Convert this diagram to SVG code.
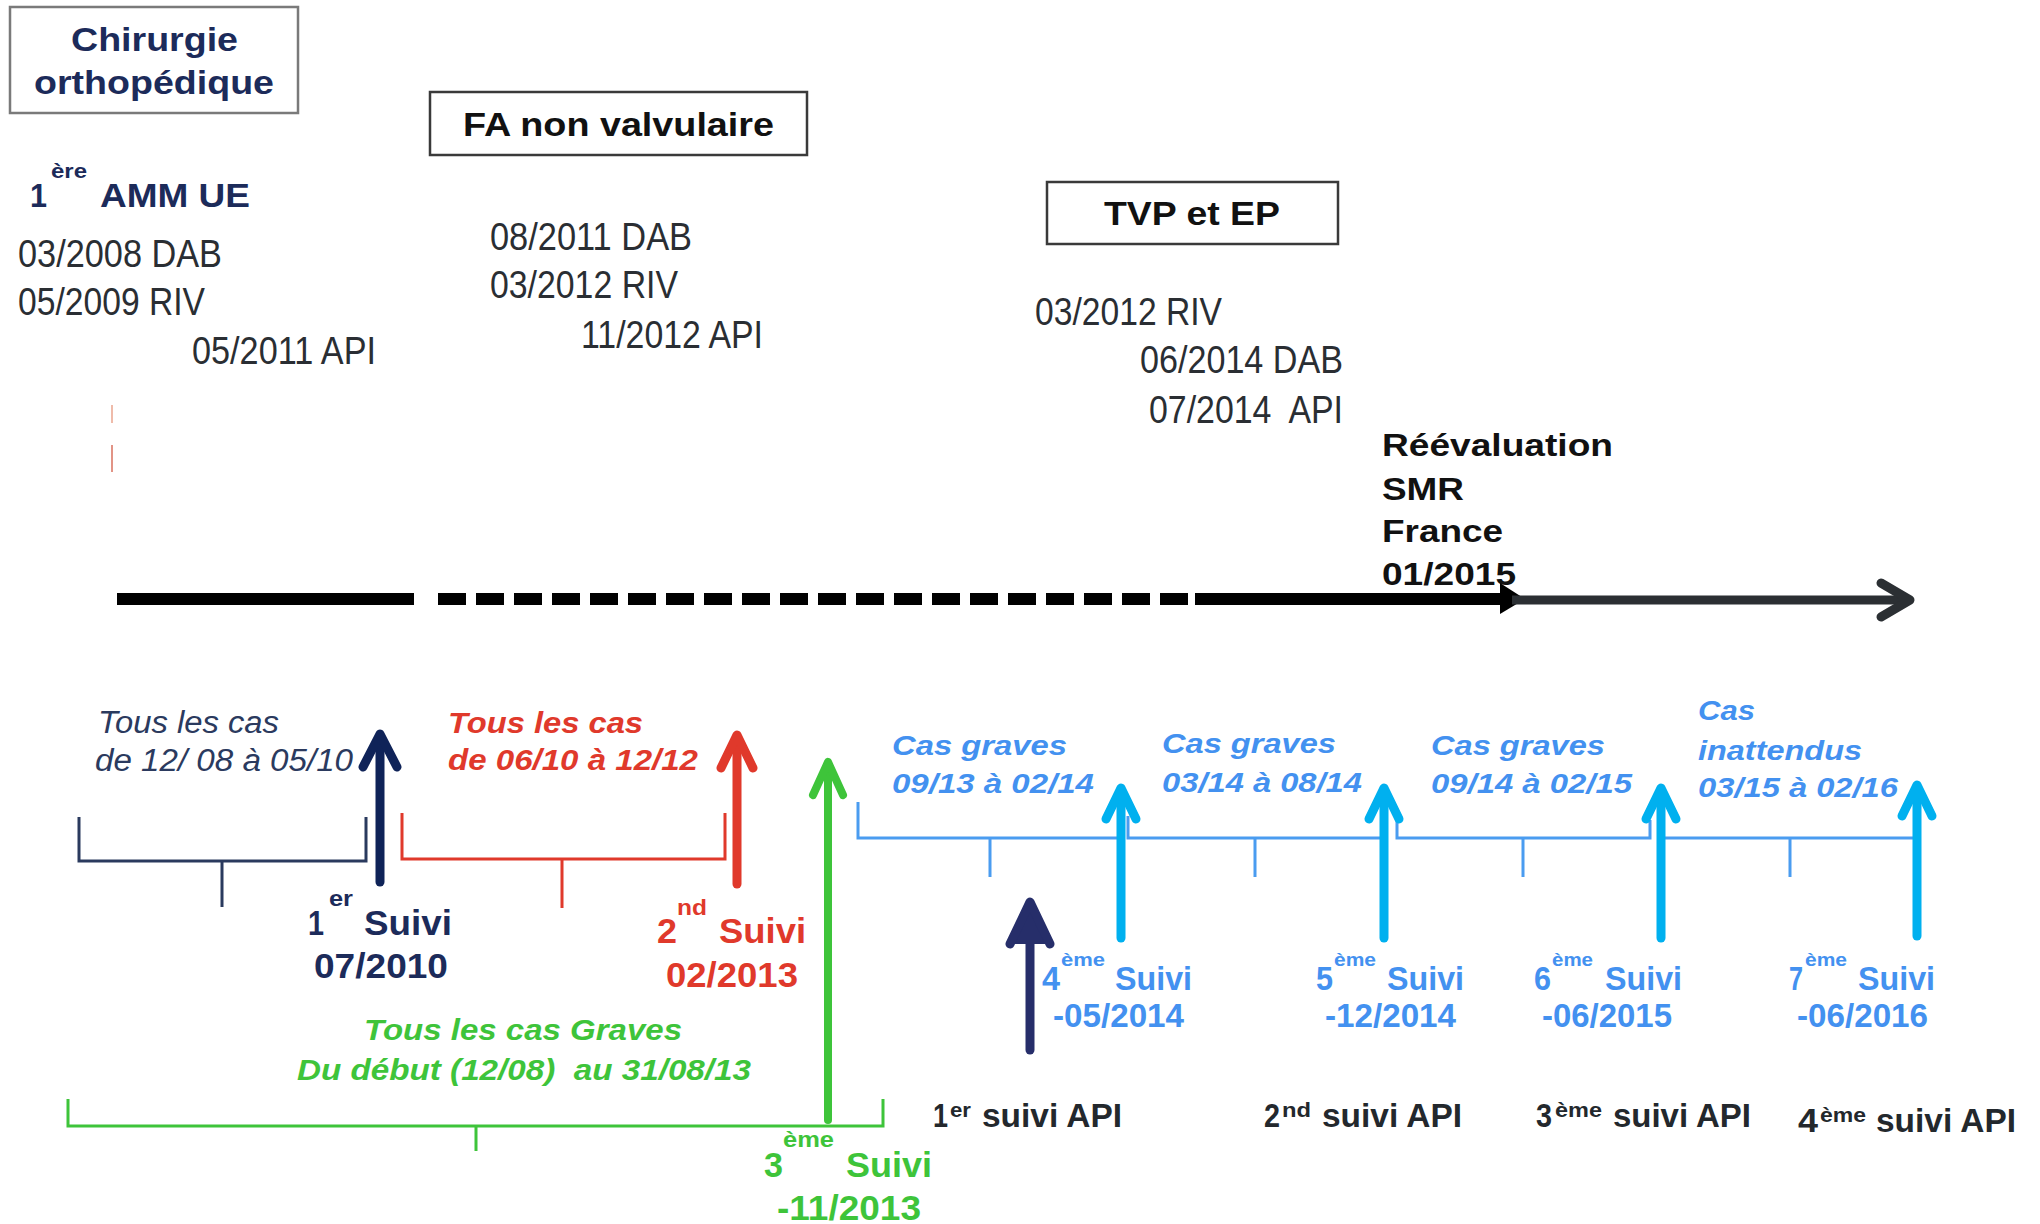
<svg xmlns="http://www.w3.org/2000/svg" width="2040" height="1224" viewBox="0 0 2040 1224">
<style>
text{font-family:"Liberation Sans",Arial,sans-serif;}
.b{font-weight:bold;}
.i{font-style:italic;}
.navy{fill:#1c2b5a;}
.dk{fill:#2a2e33;}
.blk{fill:#111;}
.red{fill:#e0392b;}
.grn{fill:#3ec43a;}
.blu{fill:#4391f0;}
.bk2{fill:#23282d;}
.date{font-size:38px;}
.box{fill:#fff;stroke:#3a3a3a;stroke-width:2.5;}
.br{fill:none;stroke-width:3;}
.arr{fill:none;stroke-linecap:round;stroke-linejoin:round;}
.pre{white-space:pre;}
</style>
<rect width="2040" height="1224" fill="#fff"/>

<g id="node-chirurgie">
<rect class="box" x="10" y="7" width="288" height="106" style="stroke:#7a7a7a"/>
<text class="b navy" x="71" y="51" font-size="34" textLength="167" lengthAdjust="spacingAndGlyphs">Chirurgie</text>
<text class="b navy" x="34" y="94" font-size="34" textLength="240" lengthAdjust="spacingAndGlyphs">orthopédique</text>
</g>
<g id="node-fa">
<rect class="box" x="430" y="92" width="377" height="63"/>
<text class="b blk" x="463" y="136" font-size="33" textLength="311" lengthAdjust="spacingAndGlyphs">FA non valvulaire</text>
</g>
<g id="node-tvp">
<rect class="box" x="1047" y="182" width="291" height="62"/>
<text class="b blk" x="1104" y="225" font-size="33" textLength="176" lengthAdjust="spacingAndGlyphs">TVP et EP</text>
</g>

<g id="node-amm">
<text class="b navy" x="30" y="207" font-size="33" textLength="17" lengthAdjust="spacingAndGlyphs">1</text>
<text class="b navy" x="51" y="178" font-size="20" textLength="36" lengthAdjust="spacingAndGlyphs">ère</text>
<text class="b navy" x="100" y="207" font-size="33" textLength="150" lengthAdjust="spacingAndGlyphs">AMM UE</text>
<text class="date dk" x="18" y="267" textLength="204" lengthAdjust="spacingAndGlyphs">03/2008 DAB</text>
<text class="date dk" x="18" y="315" textLength="187" lengthAdjust="spacingAndGlyphs">05/2009 RIV</text>
<text class="date dk" x="192" y="364" textLength="184" lengthAdjust="spacingAndGlyphs">05/2011 API</text>
</g>
<g id="node-fa-dates">
<text class="date dk" x="490" y="250" textLength="202" lengthAdjust="spacingAndGlyphs">08/2011 DAB</text>
<text class="date dk" x="490" y="298" textLength="188" lengthAdjust="spacingAndGlyphs">03/2012 RIV</text>
<text class="date dk" x="581" y="348" textLength="182" lengthAdjust="spacingAndGlyphs">11/2012 API</text>
</g>
<g id="node-tvp-dates">
<text class="date dk" x="1035" y="325" textLength="187" lengthAdjust="spacingAndGlyphs">03/2012 RIV</text>
<text class="date dk" x="1140" y="373" textLength="203" lengthAdjust="spacingAndGlyphs">06/2014 DAB</text>
<text class="date dk pre" x="1149" y="423" textLength="194" lengthAdjust="spacingAndGlyphs">07/2014  API</text>
</g>
<g id="node-smr">
<text class="b blk" x="1382" y="456" font-size="32" textLength="231" lengthAdjust="spacingAndGlyphs">Réévaluation</text>
<text class="b blk" x="1382" y="500" font-size="32" textLength="82" lengthAdjust="spacingAndGlyphs">SMR</text>
<text class="b blk" x="1382" y="542" font-size="32" textLength="121" lengthAdjust="spacingAndGlyphs">France</text>
<text class="b blk" x="1382" y="585" font-size="32" textLength="134" lengthAdjust="spacingAndGlyphs">01/2015</text>
</g>

<g id="marks">
<line x1="112" y1="405" x2="112" y2="423" stroke="#eaa58e" stroke-width="1.5"/>
<line x1="112" y1="445" x2="112" y2="472" stroke="#d8705e" stroke-width="1.5"/>
</g>

<g id="node-suivi1">
<text class="i navy" x="98" y="733" font-size="31" style="fill:#2b3a5e" textLength="181" lengthAdjust="spacingAndGlyphs">Tous les cas</text>
<text class="i navy" x="95" y="771" font-size="31" style="fill:#2b3a5e" textLength="258" lengthAdjust="spacingAndGlyphs">de 12/ 08 à 05/10</text>
<text class="b navy" x="308" y="935" font-size="35" textLength="16" lengthAdjust="spacingAndGlyphs">1</text>
<text class="b navy" x="329" y="906" font-size="22" textLength="24" lengthAdjust="spacingAndGlyphs">er</text>
<text class="b navy" x="364" y="935" font-size="35" textLength="88" lengthAdjust="spacingAndGlyphs">Suivi</text>
<text class="b navy" x="314" y="978" font-size="35" textLength="134" lengthAdjust="spacingAndGlyphs">07/2010</text>
</g>
<g id="node-suivi2">
<text class="b i red" x="448" y="733" font-size="30" textLength="195" lengthAdjust="spacingAndGlyphs">Tous les cas</text>
<text class="b i red" x="448" y="770" font-size="30" textLength="250" lengthAdjust="spacingAndGlyphs">de 06/10 à 12/12</text>
<text class="b red" x="657" y="943" font-size="35" textLength="20" lengthAdjust="spacingAndGlyphs">2</text>
<text class="b red" x="677" y="915" font-size="22" textLength="30" lengthAdjust="spacingAndGlyphs">nd</text>
<text class="b red" x="719" y="943" font-size="35" textLength="87" lengthAdjust="spacingAndGlyphs">Suivi</text>
<text class="b red" x="666" y="987" font-size="35" textLength="132" lengthAdjust="spacingAndGlyphs">02/2013</text>
</g>
<g id="node-suivi3">
<text class="b i grn" x="364" y="1040" font-size="29" textLength="318" lengthAdjust="spacingAndGlyphs">Tous les cas Graves</text>
<text class="b i grn pre" x="297" y="1080" font-size="29" textLength="454" lengthAdjust="spacingAndGlyphs">Du début (12/08)  au 31/08/13</text>
<text class="b grn" x="764" y="1177" font-size="35" textLength="19" lengthAdjust="spacingAndGlyphs">3</text>
<text class="b grn" x="783" y="1147" font-size="22" textLength="51" lengthAdjust="spacingAndGlyphs">ème</text>
<text class="b grn" x="846" y="1177" font-size="35" textLength="86" lengthAdjust="spacingAndGlyphs">Suivi</text>
<text class="b grn" x="777" y="1220" font-size="35" textLength="144" lengthAdjust="spacingAndGlyphs">-11/2013</text>
</g>

<g id="node-suivi4">
<text class="b i blu" x="892" y="755" font-size="28" textLength="175" lengthAdjust="spacingAndGlyphs">Cas graves</text>
<text class="b i blu" x="892" y="793" font-size="28" textLength="202" lengthAdjust="spacingAndGlyphs">09/13 à 02/14</text>
<text class="b blu" x="1042" y="990" font-size="33" textLength="18" lengthAdjust="spacingAndGlyphs">4</text>
<text class="b blu" x="1061" y="966" font-size="19" textLength="44" lengthAdjust="spacingAndGlyphs">ème</text>
<text class="b blu" x="1115" y="990" font-size="33" textLength="77" lengthAdjust="spacingAndGlyphs">Suivi</text>
<text class="b blu" x="1053" y="1027" font-size="33" textLength="131" lengthAdjust="spacingAndGlyphs">-05/2014</text>
</g>
<g id="node-suivi5">
<text class="b i blu" x="1162" y="753" font-size="28" textLength="174" lengthAdjust="spacingAndGlyphs">Cas graves</text>
<text class="b i blu" x="1162" y="792" font-size="28" textLength="200" lengthAdjust="spacingAndGlyphs">03/14 à 08/14</text>
<text class="b blu" x="1316" y="990" font-size="33" textLength="17" lengthAdjust="spacingAndGlyphs">5</text>
<text class="b blu" x="1334" y="966" font-size="19" textLength="42" lengthAdjust="spacingAndGlyphs">ème</text>
<text class="b blu" x="1387" y="990" font-size="33" textLength="77" lengthAdjust="spacingAndGlyphs">Suivi</text>
<text class="b blu" x="1325" y="1027" font-size="33" textLength="131" lengthAdjust="spacingAndGlyphs">-12/2014</text>
</g>
<g id="node-suivi6">
<text class="b i blu" x="1431" y="755" font-size="28" textLength="174" lengthAdjust="spacingAndGlyphs">Cas graves</text>
<text class="b i blu" x="1431" y="793" font-size="28" textLength="201" lengthAdjust="spacingAndGlyphs">09/14 à 02/15</text>
<text class="b blu" x="1534" y="990" font-size="33" textLength="17" lengthAdjust="spacingAndGlyphs">6</text>
<text class="b blu" x="1552" y="966" font-size="19" textLength="41" lengthAdjust="spacingAndGlyphs">ème</text>
<text class="b blu" x="1605" y="990" font-size="33" textLength="77" lengthAdjust="spacingAndGlyphs">Suivi</text>
<text class="b blu" x="1542" y="1027" font-size="33" textLength="130" lengthAdjust="spacingAndGlyphs">-06/2015</text>
</g>
<g id="node-suivi7">
<text class="b i blu" x="1698" y="720" font-size="28" textLength="57" lengthAdjust="spacingAndGlyphs">Cas</text>
<text class="b i blu" x="1698" y="760" font-size="28" textLength="164" lengthAdjust="spacingAndGlyphs">inattendus</text>
<text class="b i blu" x="1698" y="797" font-size="28" textLength="200" lengthAdjust="spacingAndGlyphs">03/15 à 02/16</text>
<text class="b blu" x="1789" y="990" font-size="33" textLength="14" lengthAdjust="spacingAndGlyphs">7</text>
<text class="b blu" x="1805" y="966" font-size="19" textLength="42" lengthAdjust="spacingAndGlyphs">ème</text>
<text class="b blu" x="1858" y="990" font-size="33" textLength="77" lengthAdjust="spacingAndGlyphs">Suivi</text>
<text class="b blu" x="1797" y="1027" font-size="33" textLength="131" lengthAdjust="spacingAndGlyphs">-06/2016</text>
</g>

<g id="node-api1">
<text class="b bk2" x="933" y="1127" font-size="34" textLength="15" lengthAdjust="spacingAndGlyphs">1</text>
<text class="b bk2" x="950" y="1117" font-size="20" textLength="21" lengthAdjust="spacingAndGlyphs">er</text>
<text class="b bk2" x="982" y="1127" font-size="34" textLength="140" lengthAdjust="spacingAndGlyphs">suivi API</text>
</g>
<g id="node-api2">
<text class="b bk2" x="1264" y="1127" font-size="34" textLength="16" lengthAdjust="spacingAndGlyphs">2</text>
<text class="b bk2" x="1282" y="1117" font-size="20" textLength="29" lengthAdjust="spacingAndGlyphs">nd</text>
<text class="b bk2" x="1322" y="1127" font-size="34" textLength="140" lengthAdjust="spacingAndGlyphs">suivi API</text>
</g>
<g id="node-api3">
<text class="b bk2" x="1536" y="1127" font-size="34" textLength="16" lengthAdjust="spacingAndGlyphs">3</text>
<text class="b bk2" x="1555" y="1117" font-size="20" textLength="47" lengthAdjust="spacingAndGlyphs">ème</text>
<text class="b bk2" x="1613" y="1127" font-size="34" textLength="138" lengthAdjust="spacingAndGlyphs">suivi API</text>
</g>
<g id="node-api4">
<text class="b bk2" x="1798" y="1132" font-size="34" textLength="20" lengthAdjust="spacingAndGlyphs">4</text>
<text class="b bk2" x="1820" y="1122" font-size="20" textLength="46" lengthAdjust="spacingAndGlyphs">ème</text>
<text class="b bk2" x="1876" y="1132" font-size="34" textLength="140" lengthAdjust="spacingAndGlyphs">suivi API</text>
</g>

<g id="connectors">
<line x1="117" y1="599" x2="414" y2="599" stroke="#000" stroke-width="12"/>
<line x1="438" y1="599" x2="1190" y2="599" stroke="#000" stroke-width="12" stroke-dasharray="28 10"/>
<line x1="1195" y1="599" x2="1504" y2="599" stroke="#000" stroke-width="12"/>
<polygon points="1500,583 1525,599 1500,614" fill="#000"/>
<line x1="1512" y1="600" x2="1905" y2="600" stroke="#2b2f33" stroke-width="9"/>
<polyline class="arr" points="1881,583 1910,600 1881,617" stroke="#2b2f33" stroke-width="9"/>

<path class="br" d="M79,817 V861 H366 V817 M222,861 V907" stroke="#2a3a5e"/>
<path class="br" d="M402,813 V859 H725 V813 M562,859 V908" stroke="#e0392b"/>
<path class="br" d="M68,1099 V1126 H883 V1099 M476,1126 V1151" stroke="#3ec43a"/>
<path class="br" d="M858,802 V838 H1118 M1128,816 V838 H1380 M1397,815 V838 H1650 V820 M1665,838 H1913 M990,838 V877 M1255,838 V877 M1523,838 V877 M1790,838 V877" stroke="#4a9cf0"/>

<g class="arr" stroke="#0f2358" stroke-width="9">
<line x1="380" y1="882" x2="380" y2="736"/>
<polyline points="363,767 380,734 397,767"/>
</g>
<g class="arr" stroke="#e0392b" stroke-width="9">
<line x1="737" y1="884" x2="737" y2="738"/>
<polyline points="721,768 737,735 753,768"/>
</g>
<g class="arr" stroke="#3ec43a" stroke-width="8">
<line x1="828" y1="1120" x2="828" y2="765"/>
<polyline points="813,795 828,762 843,795"/>
</g>
<g class="arr" stroke="#00b0ef" stroke-width="9">
<line x1="1121" y1="938" x2="1121" y2="791"/>
<polyline points="1106,819 1121,788 1136,819"/>
<line x1="1384" y1="938" x2="1384" y2="791"/>
<polyline points="1369,819 1384,788 1399,819"/>
<line x1="1661" y1="938" x2="1661" y2="791"/>
<polyline points="1646,819 1661,788 1676,819"/>
<line x1="1917" y1="936" x2="1917" y2="788"/>
<polyline points="1902,816 1917,785 1932,816"/>
</g>
<g class="arr" stroke="#262e6a" stroke-width="9">
<line x1="1030" y1="1050" x2="1030" y2="905"/>
<polyline points="1010,944 1030,902 1050,944" fill="#262e6a"/>
</g>
</g>
</svg>
